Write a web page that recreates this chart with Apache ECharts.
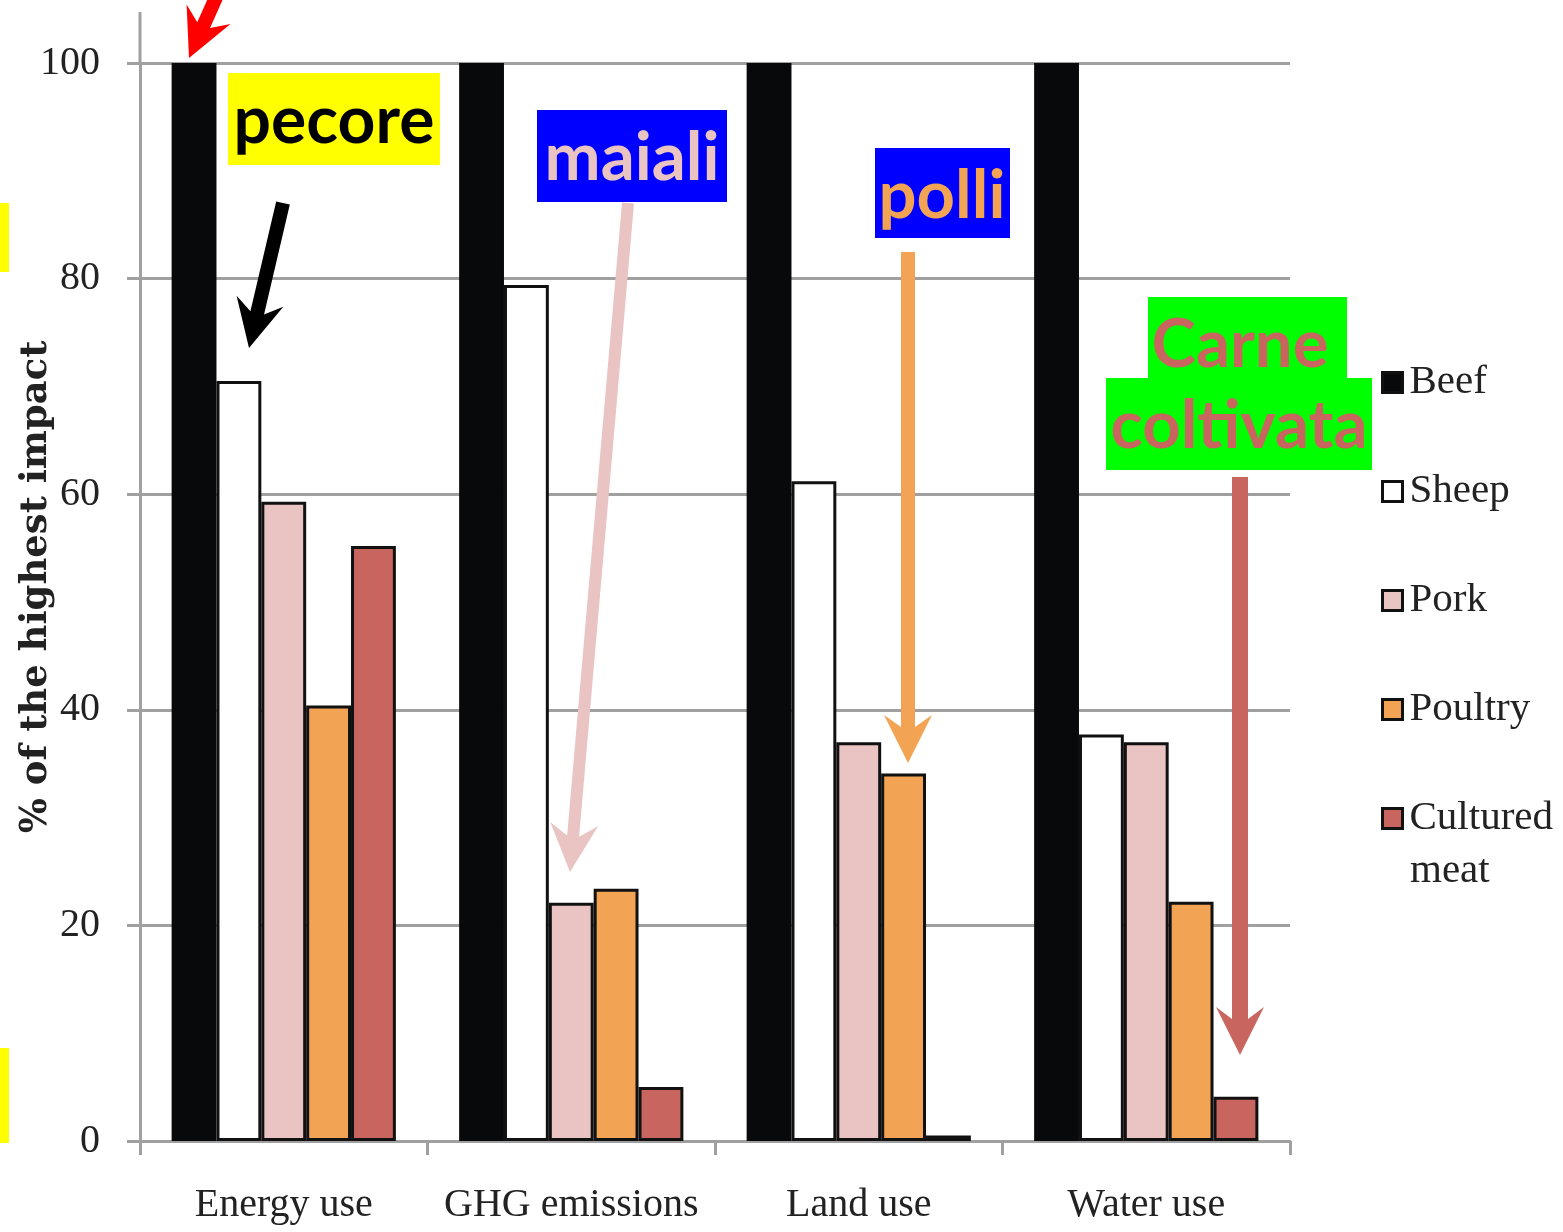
<!DOCTYPE html>
<html>
<head>
<meta charset="utf-8">
<script src="https://cdn.jsdelivr.net/npm/echarts@6/dist/echarts.min.js"></script>
<style>
html,body{margin:0;padding:0;background:#fff;}
#chart{width:1563px;height:1232px;}
</style>
</head>
<body>
<div id="chart"></div>
<script>
const categories = ['Energy use', 'GHG emissions', 'Land use', 'Water use'];
const seriesNames = ['Beef', 'Sheep', 'Pork', 'Poultry', 'Cultured meat'];
const beef = [100, 100, 100, 100];
const sheep = [70.5, 79.4, 61.2, 37.7];
const pork = [59.3, 22.1, 37.0, 37.0];
const poultry = [40.4, 23.4, 34.1, 22.2];
const cultured = [55.2, 5.0, 0.5, 4.1];
const yTicks = [0, 20, 40, 60, 80, 100];
const yAxisTitle = '% of the highest impact';

const seriesValues = [beef, sheep, pork, poultry, cultured];
const seriesColors = ['#08090a', '#ffffff', '#e9c4c2', '#f2a354', '#c9655f'];

const chart = echarts.init(document.getElementById('chart'), null, {renderer: 'canvas'});

// arrow helper: start, tip, shaft width, head length, head half width, notch
function arrow(sx, sy, tx, ty, w, L, hw, notch, color) {
  const dx = tx - sx, dy = ty - sy;
  const len = Math.sqrt(dx * dx + dy * dy);
  const ux = dx / len, uy = dy / len;
  const nx = -uy, ny = ux;
  const bx = tx - ux * L, by = ty - uy * L;
  const ex = tx - ux * (L - notch), ey = ty - uy * (L - notch);
  const pts = [
    [sx + nx * w / 2, sy + ny * w / 2],
    [ex + nx * w / 2, ey + ny * w / 2],
    [bx + nx * hw, by + ny * hw],
    [tx, ty],
    [bx - nx * hw, by - ny * hw],
    [ex - nx * w / 2, ey - ny * w / 2],
    [sx - nx * w / 2, sy - ny * w / 2]
  ];
  return {type: 'polygon', z: 100, shape: {points: pts}, style: {fill: color}, silent: true};
}

function box(x, y, w, h, fill) {
  return {type: 'rect', z: 90, shape: {x: x, y: y, width: w, height: h}, style: {fill: fill}, silent: true};
}
function label(text, cx, cy, color, size) {
  return {type: 'text', z: 95, x: cx, y: cy, silent: true,
    style: {text: text, fill: color, font: 'bold ' + size + 'px Lato', textAlign: 'center', textVerticalAlign: 'middle'}};
}

const graphics = [
  // y axis extension above top gridline
  {type: 'line', z: 1, shape: {x1: 140, y1: 12, x2: 140, y2: 63}, style: {stroke: '#a0a0a0', lineWidth: 3}, silent: true},
  // second line of the last legend entry
  {type: 'text', z: 10, x: 1410, y: 871, silent: true,
    style: {text: 'meat', fill: '#222', font: '41px "Liberation Serif"', textAlign: 'left', textVerticalAlign: 'middle'}},
  // yellow edge marks
  box(0, 203, 9, 69, '#ffff00'),
  box(0, 1048, 9, 95, '#ffff00'),
  // annotation boxes
  box(228, 73, 212, 92, '#ffff00'),
  label('pecore', 334, 122, '#000000', 66),
  box(537, 110, 190, 92, '#0000ff'),
  label('maiali', 632, 158, '#e9c4c2', 67),
  box(875, 148, 135, 90, '#0000ff'),
  label('polli', 942, 196, '#f2a354', 67),
  box(1148, 297, 199, 82, '#00ff00'),
  box(1106, 378, 266, 92, '#00ff00'),
  label('Carne', 1240, 345, '#c9655f', 67),
  label('coltivata', 1239, 426, '#c9655f', 67),
  // arrows
  arrow(238, -52, 189, 58, 14, 48, 24, 12, '#ff0000'),
  arrow(283, 203, 249, 348, 14, 48, 24, 12, '#000000'),
  arrow(628, 203, 570, 872, 12, 48, 24, 12, '#e9c4c2'),
  arrow(908, 252, 908, 763, 14, 48, 24, 12, '#f2a354'),
  arrow(1240, 477, 1240, 1055, 16, 48, 24, 12, '#c9655f')
];

const series = seriesNames.map(function (name, i) {
  return {
    name: name,
    type: 'bar',
    data: seriesValues[i],
    barGap: '0%',
    barCategoryGap: '22%',
    itemStyle: {color: seriesColors[i], borderColor: '#111', borderWidth: i === 0 ? 0 : 3},
    emphasis: {disabled: true},
    animation: false
  };
});

const option = {
  backgroundColor: '#ffffff',
  animation: false,
  grid: {left: 140, right: 273, top: 63, bottom: 91, containLabel: false, outerBoundsMode: 'none'},
  legend: {
    orient: 'vertical',
    left: 1376,
    top: 350,
    itemWidth: 20,
    itemHeight: 20,
    itemGap: 54,
    icon: 'rect',
    data: seriesNames,
    formatter: function (n) { return n === 'Cultured meat' ? 'Cultured' : n; },
    textStyle: {fontFamily: 'Liberation Serif', fontSize: 41, color: '#222', lineHeight: 55, padding: [0, 0, 0, 2]},
    itemStyle: {borderColor: '#111', borderWidth: 3},
    selectedMode: false
  },
  xAxis: {
    type: 'category',
    data: categories,
    axisLine: {lineStyle: {color: '#a0a0a0', width: 3}},
    axisTick: {show: true, length: 14, lineStyle: {color: '#a0a0a0', width: 3}},
    axisLabel: {fontFamily: 'Liberation Serif', fontSize: 40, color: '#222', margin: 44, interval: 0}
  },
  yAxis: {
    type: 'value',
    min: 0,
    max: 100,
    interval: 20,
    name: yAxisTitle,
    nameLocation: 'middle',
    nameGap: 85,
    nameMoveOverlap: false,
    nameTextStyle: {fontFamily: 'DejaVu Serif', fontWeight: 'bold', fontSize: 37, color: '#222', padding: [0, 0, 0, 30]},
    axisLine: {show: true, lineStyle: {color: '#a0a0a0', width: 3}},
    axisTick: {show: true, length: 13, lineStyle: {color: '#a0a0a0', width: 3}},
    axisLabel: {fontFamily: 'Liberation Serif', fontSize: 40, color: '#222', margin: 40,
      formatter: function (v) { return yTicks.indexOf(v) >= 0 ? String(v) : ''; }},
    splitLine: {show: true, lineStyle: {color: '#a0a0a0', width: 3}}
  },
  series: series,
  graphic: graphics
};
chart.setOption(option);
</script>
</body>
</html>
